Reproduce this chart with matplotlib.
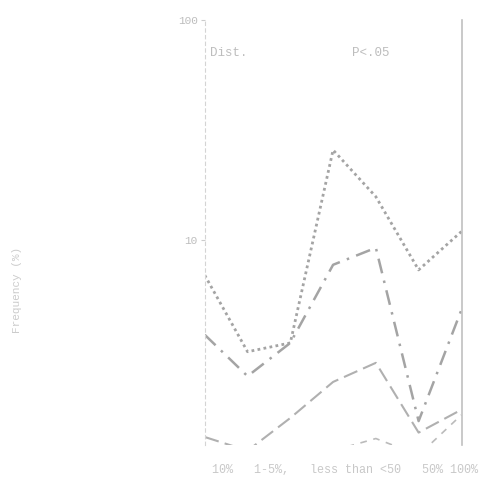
import matplotlib
matplotlib.use("Agg")
import matplotlib.pyplot as plt
import numpy as np

# category positions along the x axis
categories = [0, 1, 2, 3, 4, 5, 6]

# frequency (%), log scale
dotted_vals = [6.9, 3.1, 3.4, 25.6, 15.7, 7.3, 10.9]
dashdot_vals = [3.7, 2.4, 3.4, 7.7, 9.2, 1.5, 4.8]
dashed_vals = [1.27, 1.1, 1.55, 2.26, 2.76, 1.33, 1.69]
bottom_vals = [1.0, 0.9, 1.0, 1.1, 1.25, 1.05, 1.6]

ytick_vals = [10, 100]
ytick_labels = ["10", "100"]

line_col = "#a4a4a4"
text_col = "#bdbdbd"
mono = "Liberation Mono"

fig = plt.figure(figsize=(4.83, 4.83), dpi=100)
ax = fig.add_axes([0.424, 0.079, 0.533, 0.88])

ax.plot(categories, dotted_vals, color=line_col, lw=2.0, linestyle=(0, (1, 1.2)))
ax.plot(categories, dashdot_vals, color=line_col, lw=1.8, linestyle=(0, (6, 3, 1, 3)))
ax.plot(categories, dashed_vals, color="#b0b0b0", lw=1.5, linestyle=(0, (7, 3)))
ax.plot(categories, bottom_vals, color="#bbbbbb", lw=1.2, linestyle=(0, (4, 4)))

ax.set_yscale("log")
ax.set_ylim(1.17, 100)
ax.set_xlim(0, 6.02)

ax.set_yticks(ytick_vals)
ax.set_yticklabels(ytick_labels, fontsize=8, color=text_col, family=mono)
ax.yaxis.set_minor_locator(matplotlib.ticker.NullLocator())
ax.tick_params(axis="y", length=3, color="#cccccc", pad=2)
ax.set_xticks([])

for s in ["top", "bottom"]:
    ax.spines[s].set_visible(False)
ax.spines["left"].set_color("#d4d4d4")
ax.spines["left"].set_linestyle((0, (3, 3)))
ax.spines["left"].set_linewidth(0.8)
ax.spines["right"].set_color("#c0c0c0")
ax.spines["right"].set_linewidth(1.2)

ax.text(0.02, 0.915, "Dist.", transform=ax.transAxes, fontsize=9, color=text_col, family=mono)
ax.text(0.57, 0.915, "P<.05", transform=ax.transAxes, fontsize=9, color=text_col, family=mono)

fig.text(0.035, 0.40, "Frequency (%)", rotation=90, ha="center", va="center",
         fontsize=8, color="#cccccc", family=mono)
fig.text(0.99, 0.027, "10%   1-5%,   less than <50   50% 100%", ha="right", va="center",
         fontsize=8.5, color="#c8c8c8", family=mono)

fig.savefig("out.png", dpi=100)
